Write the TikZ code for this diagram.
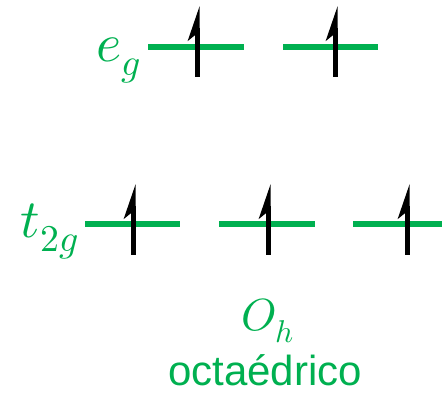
\documentclass[tikz,border=0pt]{standalone}
\usepackage{fontspec}
\usepackage{unicode-math}
\setmathfont{Latin Modern Math}
\setsansfont{Liberation Sans}
\usetikzlibrary{arrows.meta}
\definecolor{og}{RGB}{0,176,80}
\begin{document}
\begin{tikzpicture}[x=1pt,y=-1pt,
  level/.style={draw=og,line width=6pt},
  spin/.style={draw=black,line width=5pt,-{Stealth[harpoon,length=27pt,width=18pt,inset=7pt]}},
  lab/.style={text=og,inner sep=0pt}]
\useasboundingbox (0,0) rectangle (442,395);
% e_g levels
\coordinate (e1a) at (148,47); \coordinate (e1b) at (244,47);
\coordinate (e2a) at (283,47); \coordinate (e2b) at (378,47);
\draw[level] (e1a) -- (e1b);
\draw[level] (e2a) -- (e2b);
\coordinate (s1a) at (197,77); \coordinate (s1b) at (197,6);
\coordinate (s2a) at (335,77); \coordinate (s2b) at (335,6);
\draw[spin] (s1a) -- (s1b);
\draw[spin] (s2a) -- (s2b);
% t2g levels
\coordinate (t1a) at (85,224); \coordinate (t1b) at (180,224);
\coordinate (t2a) at (219,224); \coordinate (t2b) at (315,224);
\coordinate (t3a) at (353,224); \coordinate (t3b) at (442,224);
\draw[level] (t1a) -- (t1b);
\draw[level] (t2a) -- (t2b);
\draw[level] (t3a) -- (t3b);
\coordinate (s3a) at (133,255); \coordinate (s3b) at (133,184);
\coordinate (s4a) at (268,255); \coordinate (s4b) at (268,184);
\coordinate (s5a) at (407,255); \coordinate (s5b) at (407,184);
\draw[spin] (s3a) -- (s3b);
\draw[spin] (s4a) -- (s4b);
\draw[spin] (s5a) -- (s5b);
% labels
\node[lab,anchor=base east,font=\fontsize{54}{58}\selectfont] (eg) at (141,62) {$e_g$};
\node[lab,anchor=base east,font=\fontsize{54}{58}\selectfont] (tg) at (79,238) {$t_{2g}$};
\node[lab,anchor=base,font=\fontsize{45}{48}\selectfont] (oh) at (268,331) {$O_h$};
\node[lab,anchor=base,font=\sffamily\fontsize{42}{46}\selectfont] (oct) at (265,385) {octaédrico};
\end{tikzpicture}
\end{document}
